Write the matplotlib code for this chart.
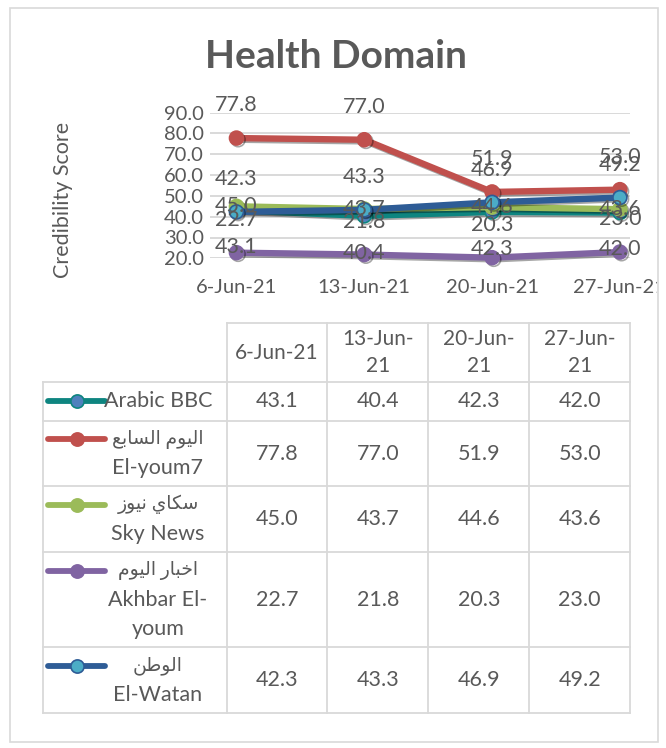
import matplotlib
matplotlib.use("Agg")
import matplotlib.pyplot as plt
import matplotlib.patheffects as pe
from matplotlib.transforms import Bbox, TransformedBbox

plt.rcParams['font.family'] = ['Lato', 'DejaVu Sans']

# data
dates = ['6-Jun-21', '13-Jun-21', '20-Jun-21', '27-Jun-21']
header_labels = ['6-Jun-21', '13-Jun-\n21', '20-Jun-\n21', '27-Jun-\n21']
arabic_names = ['', 'اليوم السابع', 'سكاي نيوز', 'اخبار اليوم', 'الوطن']
english_names = ['Arabic BBC', 'El-youm7', 'Sky News', 'Akhbar El-\nyoum', 'El-Watan']
arabic_bbc = [43.1, 40.4, 42.3, 42.0]
el_youm7 = [77.8, 77.0, 51.9, 53.0]
sky_news = [45.0, 43.7, 44.6, 43.6]
akhbar_el_youm = [22.7, 21.8, 20.3, 23.0]
el_watan = [42.3, 43.3, 46.9, 49.2]

series = [arabic_bbc, el_youm7, sky_news, akhbar_el_youm, el_watan]
line_colors = ['#0E8580', '#C0504D', '#9BBB59', '#8064A2', '#2E5C96']
face_colors = ['#4F81BD', '#C0504D', '#9BBB59', '#8064A2', '#4BACC6']
# excel label position: below / above / centre (in points)
label_offsets = [-26.5, 23.5, 0, 23.5, 23.5]

TXT = '#595959'
GRID = '#D9D9D9'

# --- tiny arabic shaper (matplotlib has no shaping / bidi) ---
FORMS = {
    'ا': ('\uFE8D', '\uFE8E', None, None),
    'ب': ('\uFE8F', '\uFE90', '\uFE91', '\uFE92'),
    'خ': ('\uFEA5', '\uFEA6', '\uFEA7', '\uFEA8'),
    'ر': ('\uFEAD', '\uFEAE', None, None),
    'ز': ('\uFEAF', '\uFEB0', None, None),
    'س': ('\uFEB1', '\uFEB2', '\uFEB3', '\uFEB4'),
    'ط': ('\uFEC1', '\uFEC2', '\uFEC3', '\uFEC4'),
    'ع': ('\uFEC9', '\uFECA', '\uFECB', '\uFECC'),
    'ك': ('\uFED9', '\uFEDA', '\uFEDB', '\uFEDC'),
    'ل': ('\uFEDD', '\uFEDE', '\uFEDF', '\uFEE0'),
    'م': ('\uFEE1', '\uFEE2', '\uFEE3', '\uFEE4'),
    'ن': ('\uFEE5', '\uFEE6', '\uFEE7', '\uFEE8'),
    'و': ('\uFEED', '\uFEEE', None, None),
    'ي': ('\uFEF1', '\uFEF2', '\uFEF3', '\uFEF4'),
}


def shape_arabic(s):
    out = []
    for i, c in enumerate(s):
        if c not in FORMS:
            out.append(c)
            continue
        prev = s[i - 1] if i > 0 else None
        nxt = s[i + 1] if i < len(s) - 1 else None
        jp = prev in FORMS and FORMS[prev][2] is not None
        jn = nxt in FORMS and FORMS[c][2] is not None
        iso, fin, ini, med = FORMS[c]
        if jp and jn:
            out.append(med)
        elif jp:
            out.append(fin)
        elif jn:
            out.append(ini)
        else:
            out.append(iso)
    return ''.join(reversed(out))


W, H = 666, 748
fig = plt.figure(figsize=(W / 100, H / 100), dpi=100)

# background overlay in pixel coords for border + data table
bg = fig.add_axes([0, 0, 1, 1], zorder=0)
bg.set_xlim(0, W)
bg.set_ylim(H, 0)
bg.axis('off')
bg.add_patch(plt.Rectangle((10, 8), 648, 734, fill=False, ec=GRID, lw=1.2))

# title + y label
fig.text(336 / W, 1 - 56 / H, 'Health Domain', ha='center', va='center',
         fontsize=28, fontweight='bold', color=TXT)
fig.text(63 / W, 1 - 200 / H, 'Credibility Score', ha='center', va='center',
         rotation=90, fontsize=15.5, color=TXT)

# line chart
ax = fig.add_axes([210 / W, 1 - 258.3 / H, 420 / W, 145.6 / H], zorder=1)
ax.patch.set_alpha(0)
x = list(range(len(dates)))
shadow = [pe.SimpleLineShadow(offset=(1.2, -1.2), alpha=0.35), pe.Normal()]
for vals, lc, fc in zip(series, line_colors, face_colors):
    ax.plot(x, vals, color=lc, lw=4.6, marker='o', ms=10, mfc=fc, mec=lc,
            mew=1.2, clip_on=False, path_effects=shadow, zorder=3)
for vals, off in zip(series, label_offsets):
    for xi, v in zip(x, vals):
        ax.annotate(f'{v:.1f}', (xi, v), xytext=(0, off), textcoords='offset points',
                    ha='center', va='center', fontsize=15.5, color=TXT, zorder=5,
                    annotation_clip=False)

ax.set_xlim(-0.207, 3.079)
ax.set_ylim(20, 90)
ax.set_yticks(range(20, 91, 10))
ax.set_yticklabels([f'{t:.1f}' for t in range(20, 91, 10)])
ax.set_xticks(x)
ax.set_xticklabels(dates)
ax.tick_params(length=0, labelsize=14.5, labelcolor=TXT)
ax.tick_params(axis='y', pad=4.5)
ax.tick_params(axis='x', pad=15)
ax.yaxis.grid(True, color=GRID, lw=1.4)
ax.set_axisbelow(True)
for sp in ax.spines.values():
    sp.set_visible(False)
# chart area cuts the last category label
clip = TransformedBbox(Bbox([[0, 0], [657 / W, 1]]), fig.transFigure)
for lbl in ax.get_xticklabels():
    lbl.set_clip_box(clip)
    lbl.set_clip_on(True)

# data table
col_edges = [42.7, 226.7, 327.3, 428.3, 529.3, 630]
row_edges = [323.3, 381.7, 421, 486, 552.3, 647.3, 713]
tk = dict(color=GRID, lw=1.3)
# header row only over value columns
bg.plot([col_edges[1], col_edges[-1]], [row_edges[0], row_edges[0]], **tk)
for r in row_edges[1:]:
    bg.plot([col_edges[0], col_edges[-1]], [r, r], **tk)
bg.plot([col_edges[0], col_edges[0]], [row_edges[1], row_edges[-1]], **tk)
for c in col_edges[1:]:
    bg.plot([c, c], [row_edges[0], row_edges[-1]], **tk)

for j, hl in enumerate(header_labels):
    cx = (col_edges[j + 1] + col_edges[j + 2]) / 2
    cy = (row_edges[0] + row_edges[1]) / 2
    parts = hl.split('\n')
    for k, p in enumerate(parts):
        bg.text(cx, cy + (k - (len(parts) - 1) / 2) * 27, p, ha='center',
                va='center', fontsize=15, color=TXT)

pitch = 29
for i, vals in enumerate(series):
    top, bot = row_edges[i + 1], row_edges[i + 2]
    cy = (top + bot) / 2
    lines = []
    if arabic_names[i]:
        lines.append((shape_arabic(arabic_names[i]), 13.5))
    lines += [(t, 15.5) for t in english_names[i].split('\n')]
    y0 = cy - (len(lines) - 1) / 2 * pitch
    for k, (ln, fs) in enumerate(lines):
        bg.text(158, y0 + k * pitch, ln, ha='center', va='center',
                fontsize=fs, color=TXT)
    # legend key
    bg.plot([48, 105], [y0, y0], color=line_colors[i], lw=4.2,
            solid_capstyle='round')
    bg.plot([77], [y0], marker='o', ms=9.5, mfc=face_colors[i],
            mec=line_colors[i], mew=1.2)
    for j, v in enumerate(vals):
        cx = (col_edges[j + 1] + col_edges[j + 2]) / 2
        bg.text(cx, cy, f'{v:.1f}', ha='center', va='center', fontsize=15.5,
                color=TXT)

fig.savefig('out.png', dpi=100)
